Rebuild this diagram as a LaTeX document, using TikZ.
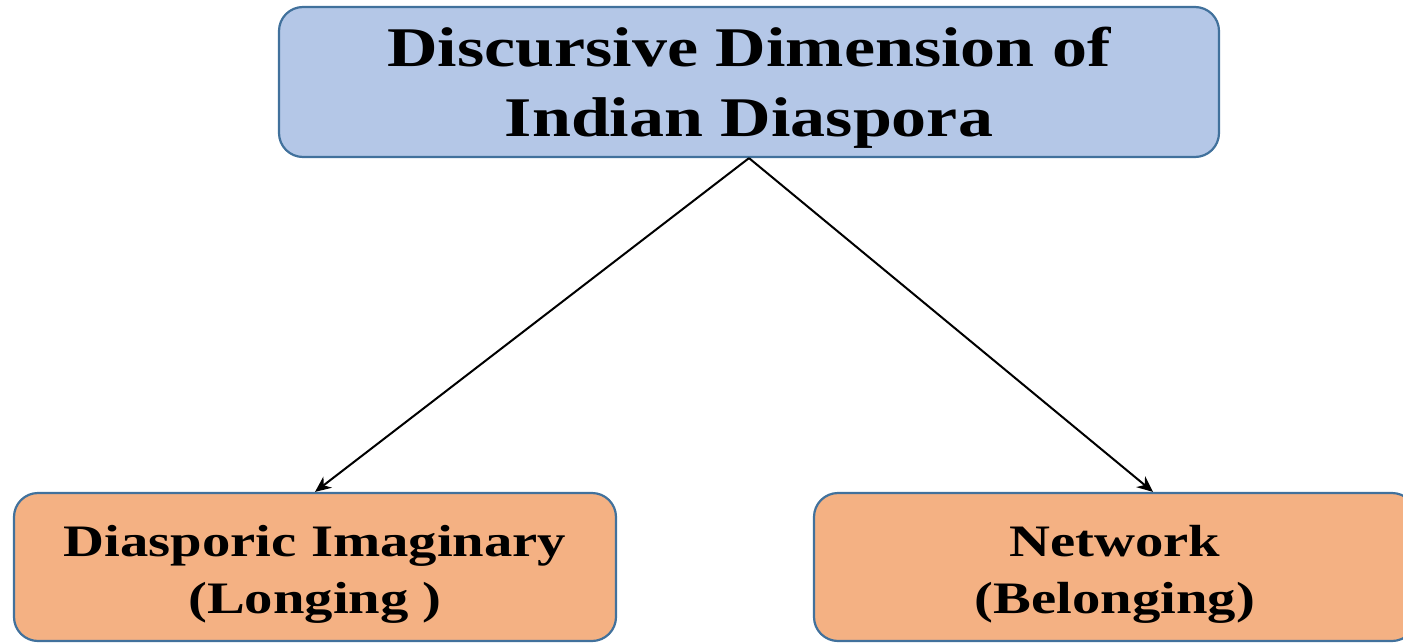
\documentclass[tikz,border=0pt]{standalone}
\usepackage{fontspec}
\setmainfont{Liberation Serif}
\newfontfamily\topfont[FakeStretch=1.25]{Liberation Serif}
\newfontfamily\botfont[FakeStretch=1.26]{Liberation Serif}
\usetikzlibrary{arrows.meta}
\definecolor{topfill}{HTML}{B4C7E7}
\definecolor{botfill}{HTML}{F4B183}
\definecolor{edge}{HTML}{41719C}
\begin{document}
\begin{tikzpicture}[x=1pt,y=1pt,
  box/.style={draw=edge,line width=2.2pt,rounded corners=24pt,inner sep=0pt},
  topbox/.style={box,fill=topfill,minimum width=940pt,minimum height=150pt},
  botbox/.style={box,fill=botfill,minimum width=602pt,minimum height=148pt},
  toptext/.style={align=center,inner sep=0pt,font=\topfont\bfseries\fontsize{56}{70}\selectfont},
  bottext/.style={align=center,inner sep=0pt,font=\botfont\bfseries\fontsize{45}{57}\selectfont},
  link/.style={line width=2pt,-{Stealth[length=16pt,width=14pt]}}]
\useasboundingbox (0,0) rectangle (1403,-643);
\node[topbox] (t) at (749,-82) {};
\node[toptext] (tt) at ([yshift=-6pt]t.center) {Discursive Dimension of\\Indian Diaspora};
\node[botbox] (l) at (315,-567) {};
\node[bottext] (lt) at ([yshift=-7pt]l.center) {Diasporic Imaginary\\(Longing )};
\node[botbox] (r) at (1115,-567) {};
\node[bottext] (rt) at ([yshift=-7pt]r.center) {Network\\(Belonging)};
\draw[link] (t.south) -- (l.north);
\draw[link] (t.south) -- ([xshift=38pt]r.north);
\end{tikzpicture}
\end{document}
